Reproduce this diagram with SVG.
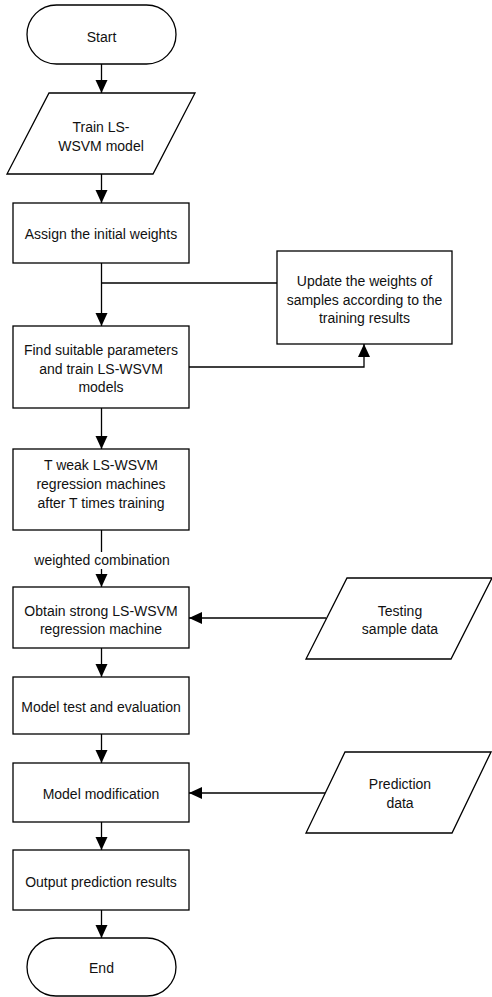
<svg xmlns="http://www.w3.org/2000/svg" width="492" height="997" viewBox="0 0 492 997">
<style>
.s{fill:#fff;stroke:#000;stroke-width:1.3}
.c{fill:none;stroke:#000;stroke-width:1.3}
text{font-family:"Liberation Sans",Arial,sans-serif;font-size:14px;fill:#111;text-anchor:middle}
</style>
<defs>
<marker id="ah" markerUnits="userSpaceOnUse" markerWidth="14" markerHeight="14" refX="13" refY="6" orient="auto">
<path d="M0,0 L13,6 L0,12 Z" fill="#000"/>
</marker>
</defs>
<rect width="492" height="997" fill="#fff"/>
<g id="connectors">
<line class="c" x1="101.5" y1="64" x2="101.5" y2="93" marker-end="url(#ah)"/>
<line class="c" x1="101.5" y1="174" x2="101.5" y2="203" marker-end="url(#ah)"/>
<line class="c" x1="101.5" y1="263" x2="101.5" y2="326" marker-end="url(#ah)"/>
<polyline class="c" points="277,283 101.5,283"/>
<polyline class="c" points="189,367 364,367 364,344" marker-end="url(#ah)"/>
<line class="c" x1="101.5" y1="408" x2="101.5" y2="449" marker-end="url(#ah)"/>
<line class="c" x1="101.5" y1="530" x2="101.5" y2="587" marker-end="url(#ah)"/>
<rect x="30" y="552" width="144" height="17" fill="#fff"/>
<text x="102" y="565">weighted combination</text>
<line class="c" x1="326" y1="618" x2="189" y2="618" marker-end="url(#ah)"/>
<line class="c" x1="101.5" y1="648" x2="101.5" y2="677" marker-end="url(#ah)"/>
<line class="c" x1="101.5" y1="734" x2="101.5" y2="763" marker-end="url(#ah)"/>
<line class="c" x1="325" y1="793" x2="189" y2="793" marker-end="url(#ah)"/>
<line class="c" x1="101.5" y1="822" x2="101.5" y2="850" marker-end="url(#ah)"/>
<line class="c" x1="101.5" y1="910" x2="101.5" y2="938" marker-end="url(#ah)"/>
</g>
<g id="start">
<rect class="s" x="27" y="5" width="149" height="59" rx="29.5" ry="29.5"/>
<text x="101.5" y="42">Start</text>
</g>
<g id="train">
<polygon class="s" points="49,93 195,93 153,174 7,174"/>
<text x="101" y="132">Train LS-</text>
<text x="101" y="151">WSVM model</text>
</g>
<g id="assign">
<rect class="s" x="13" y="203" width="176" height="60"/>
<text x="101" y="239">Assign the initial weights</text>
</g>
<g id="update">
<rect class="s" x="277" y="251" width="175" height="93"/>
<text x="364.5" y="286">Update the weights of</text>
<text x="364.5" y="304.5">samples according to the</text>
<text x="364.5" y="322.5">training results</text>
</g>
<g id="find">
<rect class="s" x="13" y="326" width="176" height="82"/>
<text x="101" y="355">Find suitable parameters</text>
<text x="101" y="373.5">and train LS-WSVM</text>
<text x="101" y="392">models</text>
</g>
<g id="tweak">
<rect class="s" x="13" y="449" width="176" height="81"/>
<text x="101" y="470">T weak LS-WSVM</text>
<text x="101" y="489">regression machines</text>
<text x="101" y="508">after T times training</text>
</g>
<g id="obtain">
<rect class="s" x="13" y="587" width="176" height="61"/>
<text x="101" y="616">Obtain strong LS-WSVM</text>
<text x="101" y="634">regression machine</text>
</g>
<g id="testing">
<polygon class="s" points="347,578 492,578 451,659 306,659"/>
<text x="400" y="616">Testing</text>
<text x="400" y="634">sample data</text>
</g>
<g id="modeltest">
<rect class="s" x="13" y="677" width="176" height="57"/>
<text x="101" y="712">Model test and evaluation</text>
</g>
<g id="modify">
<rect class="s" x="13" y="763" width="176" height="59"/>
<text x="101" y="799">Model modification</text>
</g>
<g id="prediction">
<polygon class="s" points="345,752 491,752 452,833 306,833"/>
<text x="400" y="789">Prediction</text>
<text x="400" y="808">data</text>
</g>
<g id="output">
<rect class="s" x="13" y="850" width="176" height="60"/>
<text x="101" y="887">Output prediction results</text>
</g>
<g id="end">
<rect class="s" x="27" y="938" width="149" height="58" rx="29" ry="29"/>
<text x="101.5" y="973">End</text>
</g>
</svg>
